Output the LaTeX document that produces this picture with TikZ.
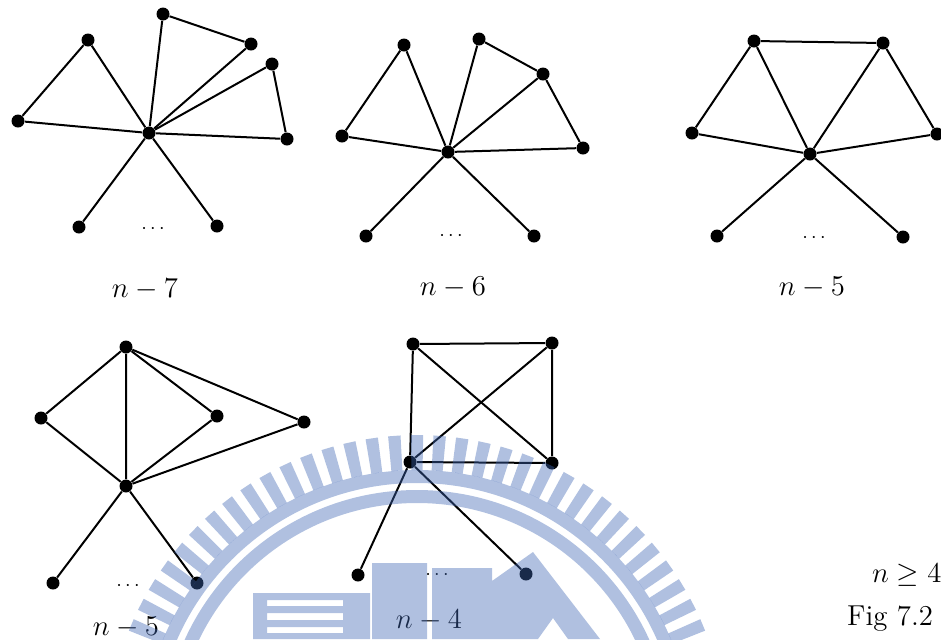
\documentclass[tikz,border=0pt]{standalone}
\definecolor{wmblue}{RGB}{63,102,180}

\begin{document}
\begin{tikzpicture}[
    x=0.5pt, y=-0.5pt,
    vert/.style={circle, fill, inner sep=0pt, minimum size=6.5pt},
    edge/.style={line width=1pt},
    lab/.style={font=\Large, anchor=base},
    gap/.style={font=\normalsize},
    wmark/.style={fill=wmblue, fill opacity=0.41}
]
\useasboundingbox (0,0) rectangle (941,639);
% Top row, left: hub with three triangles
\node[vert] (ac) at (149,133) {};
\node[vert] (a1) at (88,40) {};
\node[vert] (a2) at (18,121) {};
\node[vert] (a3) at (163,14) {};
\node[vert] (a4) at (251,44) {};
\node[vert] (a5) at (272,64) {};
\node[vert] (a6) at (287,139) {};
\node[vert] (a7) at (79,227) {};
\node[vert] (a8) at (217,226) {};
\node[gap] (adots) at (153,229) {$\cdots$};
\node[lab] (alab) at (145,297) {$n-7$};
\draw[edge] (ac) -- (a1) -- (a2) -- (ac);
\draw[edge] (ac) -- (a3) -- (a4) -- (ac);
\draw[edge] (ac) -- (a5) -- (a6) -- (ac);
\draw[edge] (ac) -- (a7);
\draw[edge] (ac) -- (a8);
% Top row, middle: triangle and fan of two
\node[vert] (bc) at (448,152) {};
\node[vert] (b1) at (404,45) {};
\node[vert] (b2) at (342,136) {};
\node[vert] (b3) at (479,39) {};
\node[vert] (b4) at (543,74) {};
\node[vert] (b5) at (583,148) {};
\node[vert] (b6) at (366,236) {};
\node[vert] (b7) at (534,236) {};
\node[gap] (bdots) at (451,236) {$\cdots$};
\node[lab] (blab) at (453,295) {$n-6$};
\draw[edge] (bc) -- (b1) -- (b2) -- (bc);
\draw[edge] (bc) -- (b3) -- (b4) -- (bc);
\draw[edge] (b4) -- (b5) -- (bc);
\draw[edge] (bc) -- (b6);
\draw[edge] (bc) -- (b7);
% Top row, right: fan of four
\node[vert] (cc) at (810,154) {};
\node[vert] (c1) at (754,41) {};
\node[vert] (c2) at (883,43) {};
\node[vert] (c3) at (692,133) {};
\node[vert] (c4) at (937,134) {};
\node[vert] (c5) at (717,236) {};
\node[vert] (c6) at (903,237) {};
\node[gap] (cdots) at (814,238) {$\cdots$};
\node[lab] (clab) at (812,295) {$n-5$};
\draw[edge] (c3) -- (c1) -- (c2) -- (c4) -- (cc) -- (c3);
\draw[edge] (c1) -- (cc) -- (c2);
\draw[edge] (cc) -- (c5);
\draw[edge] (cc) -- (c6);
% Bottom row, left: K2 joined to three vertices
\node[vert] (dt) at (126,347) {};
\node[vert] (d1) at (41,418) {};
\node[vert] (d2) at (217,416) {};
\node[vert] (d3) at (304,422) {};
\node[vert] (dc) at (126,486) {};
\node[vert] (d4) at (53,583) {};
\node[vert] (d5) at (197,583) {};
\node[gap] (ddots) at (128,586) {$\cdots$};
\node[lab] (dlab) at (126,635) {$n-5$};
\draw[edge] (dt) -- (d1) -- (dc) -- (dt);
\draw[edge] (dt) -- (d2) -- (dc);
\draw[edge] (dt) -- (d3) -- (dc);
\draw[edge] (dc) -- (d4);
\draw[edge] (dc) -- (d5);
% Bottom row, middle: K4 with pendant edges
\node[vert] (e1) at (413,344) {};
\node[vert] (e2) at (552,343) {};
\node[vert] (e3) at (410,462) {};
\node[vert] (e4) at (552,463) {};
\node[vert] (e5) at (358,575) {};
\node[vert] (e6) at (526,574) {};
\node[gap] (edots) at (437,575) {$\cdots$};
\node[lab] (elab) at (429,628) {$n-4$};
\draw[edge] (e1) -- (e2) -- (e4) -- (e3) -- (e1);
\draw[edge] (e1) -- (e4);
\draw[edge] (e2) -- (e3);
\draw[edge] (e3) -- (e5);
\draw[edge] (e3) -- (e6);
% Caption at the lower right
\node[lab, anchor=base west] (cond) at (865,582) {$n\geq 4$};
\node[lab, anchor=base east] (cap) at (940,625) {Fig 7.2};
% Watermark laid over the lower half
\begin{scope}[shift={(417,745)}]
  \fill[wmark] \foreach \a in {-174,-169.8,...,-5} {
      ({\a-1.15}:275) -- ({\a-1.15}:310) -- ({\a+1.15}:310) -- ({\a+1.15}:275) -- cycle};
  \fill[wmark, even odd rule] (0,0) circle[radius=275] (0,0) circle[radius=262];
  \fill[wmark, even odd rule] (0,0) circle[radius=255] (0,0) circle[radius=242];
\end{scope}
\fill[wmark] (253,593) rectangle (267,639)
  (267,593) rectangle (343,600)
  (267,606) rectangle (343,613)
  (267,620) rectangle (343,627)
  (267,633) rectangle (343,639)
  (343,593) rectangle (370,639)
  (372,563) rectangle (427,639)
  (432,568) -- (492,568) -- (492,581) -- (533,552) -- (600,639) -- (568,639)
  -- (553,618) -- (538,639) -- (432,639) -- cycle;
\end{tikzpicture}
\end{document}
